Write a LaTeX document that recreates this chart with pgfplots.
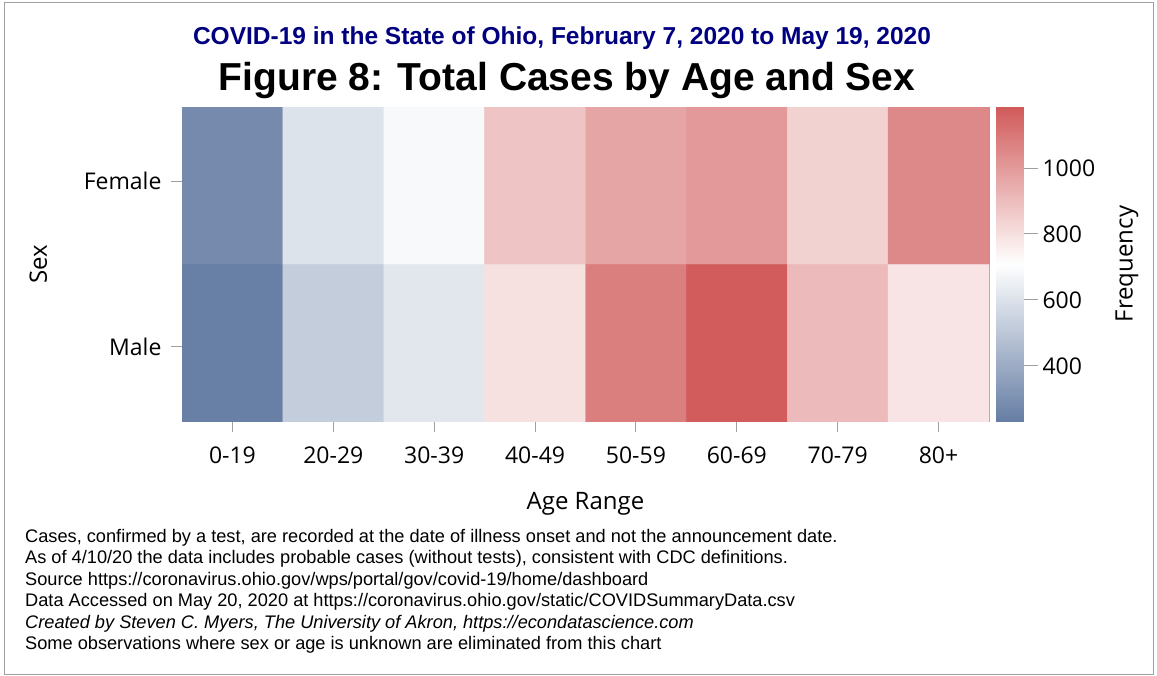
\documentclass[border=0pt]{standalone}
\usepackage{fontspec}
\setmainfont{Liberation Sans}
\newfontfamily\osans{Open Sans}
\usepackage{pgfplots}
\pgfplotsset{compat=1.18}
\usepackage{pgfplotstable}
\definecolor{navytitle}{RGB}{0,0,128}
\definecolor{axgray}{RGB}{160,160,160}
\pgfplotsset{colormap={ohio}{rgb255(0cm)=(102,126,164); rgb255(1cm)=(255,255,255); rgb255(2cm)=(209,90,90)}}

% x = age group index (0 = 0-19 ... 7 = 80+), y = 0 Male, 1 Female
\pgfplotstableread{
x y c
0 0 240
1 0 523
2 0 619
3 0 798
4 0 1083
5 0 1180
6 0 908
7 0 786
0 1 279
1 1 605
2 1 686
3 1 880
4 1 969
5 1 1003
6 1 843
7 1 1050
}\cases

\begin{document}
\begin{tikzpicture}
\path[use as bounding box] (0pt,0pt) rectangle (1157pt,-675pt);
\draw[axgray, line width=1pt] (4pt,-2pt) rectangle (1153pt,-674pt);

\node[anchor=base, text=navytitle, font=\bfseries\fontsize{24.5}{28}\selectfont] at (562pt,-44pt)
  {COVID-19 in the State of Ohio, February 7, 2020 to May 19, 2020};
\node[anchor=base, font=\bfseries\fontsize{39}{44}\selectfont] at (567pt,-90pt)
  {Figure 8: Total Cases by Age and Sex};

\begin{axis}[
  at={(182pt,-421pt)}, anchor=south west,
  scale only axis, width=807pt, height=314pt,
  xmin=-0.5, xmax=7.5, ymin=-0.446, ymax=1.446,
  xtick={0,...,7},
  xticklabels={0-19,20-29,30-39,40-49,50-59,60-69,70-79,80+},
  ytick={0,1}, yticklabels={Male,Female},
  xtick pos=bottom, ytick pos=left,
  tick align=outside, major tick length=11pt,
  axis line style={axgray}, tick style={axgray, line width=1pt},
  tick label style={font=\osans\fontsize{23}{27}\selectfont},
  xticklabel style={yshift=-11pt},
  yticklabel style={xshift=-6pt},
  xlabel={Age Range}, ylabel={Sex},
  every axis x label/.style={at={(axis description cs:0.5,-0.2643)}, anchor=center, font=\osans\fontsize{24}{28}\selectfont},
  every axis y label/.style={at={(axis description cs:-0.178,0.5)}, anchor=center, rotate=90, font=\osans\fontsize{24}{28}\selectfont},
  colormap name=ohio,
  point meta min=233, point meta max=1185,
]
\addplot[matrix plot*, mesh/cols=8, point meta=explicit] table[x=x, y=y, meta=c] {\cases};
\end{axis}

% colour scale
\begin{axis}[
  at={(996pt,-421pt)}, anchor=south west,
  scale only axis, width=27pt, height=314pt,
  xmin=0, xmax=1, ymin=233, ymax=1185,
  xtick=\empty,
  ytick={400,600,800,1000},
  ytick pos=right, yticklabel pos=right,
  tick align=outside, major tick length=15pt,
  axis line style={axgray}, tick style={axgray, line width=1pt},
  yticklabel style={font=\osans\fontsize{23}{27}\selectfont, /pgf/number format/assume math mode=true, /pgf/number format/1000 sep={}, xshift=1pt},
  ylabel={Frequency},
  every axis y label/.style={at={(axis description cs:4.85,0.5)}, anchor=center, rotate=90, font=\osans\fontsize{24}{28}\selectfont},
  colormap name=ohio,
  point meta min=233, point meta max=1185,
]
\addplot[surf, shader=interp, mesh/cols=2, point meta=y] coordinates {
(0,233) (1,233)

(0,1185) (1,1185)
};
\end{axis}

\begin{scope}[every node/.style={anchor=base west, inner sep=0pt, font=\fontsize{18.2}{22}\selectfont}]
\node at (25pt,-542pt) {Cases, confirmed by a test, are recorded at the date of illness onset and not the announcement date.};
\node at (25pt,-563.5pt) {As of 4/10/20 the data includes probable cases (without tests), consistent with CDC definitions.};
\node at (25pt,-585pt) {Source https://coronavirus.ohio.gov/wps/portal/gov/covid-19/home/dashboard};
\node at (25pt,-606.5pt) {Data Accessed on May 20, 2020 at https://coronavirus.ohio.gov/static/COVIDSummaryData.csv};
\node at (25pt,-628pt) {\itshape Created by Steven C. Myers, The University of Akron, https://econdatascience.com};
\node at (25pt,-649.5pt) {Some observations where sex or age is unknown are eliminated from this chart};
\end{scope}
\end{tikzpicture}
\end{document}
